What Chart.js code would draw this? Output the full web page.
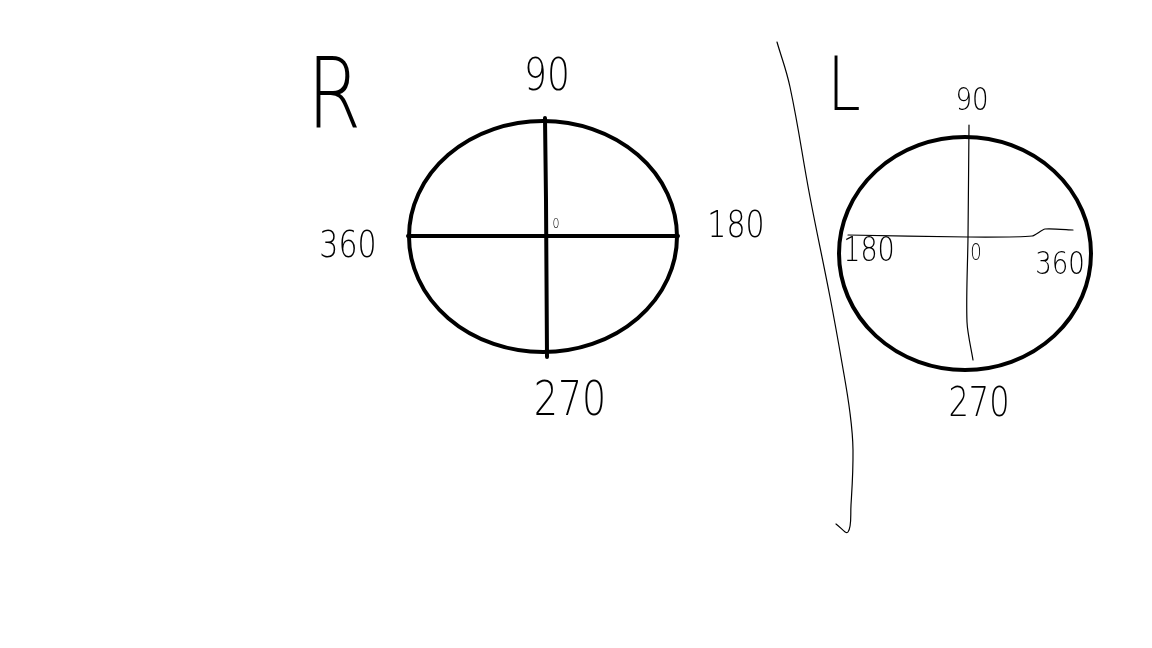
<!DOCTYPE html>
<html lang="en">

<head>
  <meta charset="UTF-8">
  <title>R / L angle sketch</title>
  <style>
    html, body { margin: 0; padding: 0; background: #fff; }
    #wrap { width: 1152px; height: 648px; }
  </style>
</head>

<body>
  <div id="wrap"><canvas id="sketch"></canvas></div>

  <script src="https://cdn.jsdelivr.net/npm/chart.js"></script>
  <script>
    // --- data (sketch space: x 0..1152, y 0..648 from the top) ---
    const ellipseCx = [543, 965];
    const ellipseCy = [236.5, 253.5];
    const ellipseRx = [134, 126];
    const ellipseRy = [115.5, 116.5];

    const rVertical = [{ x: 545, y: 118 }, { x: 546, y: 200 }, { x: 547, y: 357 }];
    const rHorizontal = [{ x: 408, y: 236 }, { x: 678, y: 236 }];
    const lVertical = [{ x: 969, y: 125 }, { x: 968, y: 237 }, { x: 967, y: 322 }, { x: 973, y: 360 }];
    const lHorizontal = [{ x: 848, y: 235 }, { x: 968, y: 237 }, { x: 1032, y: 236 }, { x: 1045, y: 229 }, { x: 1073, y: 230 }];
    const divider = [
      { x: 777, y: 42 }, { x: 790, y: 87 }, { x: 810, y: 197 }, { x: 830, y: 297 },
      { x: 842, y: 363 }, { x: 850, y: 413 }, { x: 853, y: 450 }, { x: 851, y: 505 },
      { x: 848, y: 532 }, { x: 836, y: 524 }
    ];

    const labelText = ['R', '90', '360', '180', '270', '0', 'L', '90', '180', '0', '360', '270'];
    const labelX = [334, 547, 348, 736, 570, 556, 844, 972, 869, 976, 1060, 979];
    const labelY = [102, 78, 247, 227, 403, 224, 91, 102, 252, 254, 266, 406];

    // label sizes (px)
    const labelSize = [78, 36, 30, 30, 38, 11, 60, 26, 27, 18, 26, 32];

    // ellipses + labels, positioned through the chart's scales
    const sketchPlugin = {
      id: 'sketch',
      afterDatasetsDraw(chart) {
        const { ctx, scales: { x, y } } = chart;
        ctx.save();
        ctx.strokeStyle = '#000';
        ctx.lineWidth = 4;
        ellipseCx.forEach((cx, i) => {
          const px = x.getPixelForValue(cx);
          const py = y.getPixelForValue(ellipseCy[i]);
          const rx = Math.abs(x.getPixelForValue(cx + ellipseRx[i]) - px);
          const ry = Math.abs(y.getPixelForValue(ellipseCy[i] + ellipseRy[i]) - py);
          ctx.beginPath();
          ctx.ellipse(px, py, rx, ry, 0, 0, Math.PI * 2);
          ctx.stroke();
        });

        ctx.fillStyle = '#000';
        ctx.textAlign = 'center';
        ctx.textBaseline = 'middle';
        labelText.forEach((t, i) => {
          const px = x.getPixelForValue(labelX[i]);
          const py = y.getPixelForValue(labelY[i]);
          ctx.save();
          ctx.translate(px, py);
          ctx.scale(1, 1.25);
          ctx.font = '200 ' + labelSize[i] + 'px "DejaVu Sans"';
          ctx.fillText(t, 0, 0);
          ctx.restore();
        });
        ctx.restore();
      }
    };

    function stroke(data, width, tension) {
      return {
        data: data,
        showLine: true,
        borderColor: '#000',
        borderWidth: width,
        pointRadius: 0,
        tension: tension,
        borderCapStyle: 'round'
      };
    }

    new Chart(document.getElementById('sketch'), {
      type: 'scatter',
      data: {
        datasets: [
          stroke(rVertical, 4, 0),
          stroke(rHorizontal, 4, 0),
          stroke(lVertical, 1.2, 0.3),
          stroke(lHorizontal, 1.2, 0.2),
          stroke(divider, 1.2, 0.4)
        ]
      },
      options: {
        responsive: true,
        maintainAspectRatio: false,
        animation: false,
        layout: { padding: 0 },
        plugins: { legend: { display: false }, tooltip: { enabled: false } },
        scales: {
          x: { type: 'linear', min: 0, max: 1152, display: false },
          y: { type: 'linear', min: 0, max: 648, reverse: true, display: false }
        }
      },
      plugins: [sketchPlugin]
    });
  </script>
</body>

</html>
